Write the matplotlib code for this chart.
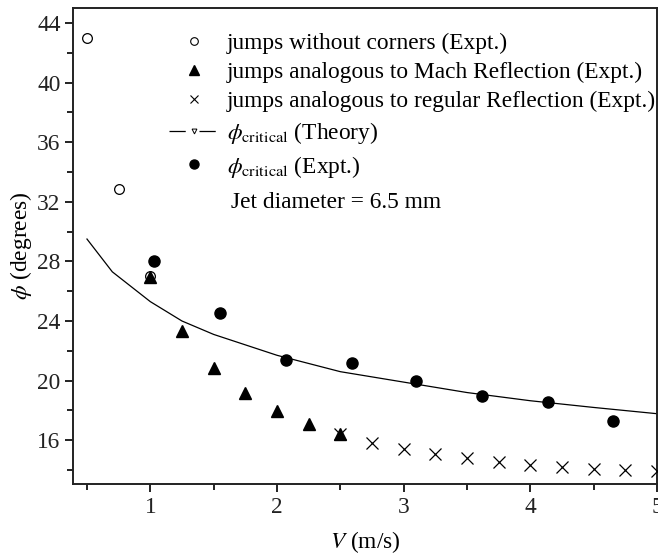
import matplotlib
matplotlib.use('Agg')
import matplotlib.pyplot as plt
from matplotlib.lines import Line2D
from matplotlib.ticker import MultipleLocator

plt.rcParams['font.family'] = ['Liberation Serif', 'DejaVu Serif']
plt.rcParams['mathtext.fontset'] = 'stix'

# jumps without corners (Expt.)
v_nocorner = [0.5, 0.75, 1.0]
phi_nocorner = [43.0, 32.85, 27.0]

# jumps analogous to Mach Reflection (Expt.)
v_mach = [1.0, 1.25, 1.5, 1.75, 2.0, 2.25, 2.5]
phi_mach = [26.95, 23.3, 20.85, 19.15, 17.95, 17.1, 16.4]

# jumps analogous to regular Reflection (Expt.)
v_regular = [2.5, 2.75, 3.0, 3.25, 3.5, 3.75, 4.0, 4.25, 4.5, 4.75, 5.0]
phi_regular = [16.4, 15.8, 15.4, 15.1, 14.8, 14.57, 14.37, 14.2, 14.07, 14.0, 13.95]

# phi critical (Theory)
v_theory = [0.5, 0.7, 1.0, 1.25, 1.5, 2.0, 2.5, 3.0, 3.5, 4.0, 4.5, 5.0]
phi_theory = [29.5, 27.3, 25.3, 24.0, 23.1, 21.7, 20.6, 19.9, 19.2, 18.65, 18.2, 17.78]

# phi critical (Expt.)
v_crit = [1.03, 1.55, 2.07, 2.59, 3.10, 3.62, 4.14, 4.65]
phi_crit = [28.05, 24.55, 21.4, 21.15, 20.0, 19.0, 18.55, 17.27]

fs = 16.8

fig = plt.figure(figsize=(6.58, 5.54), dpi=100)
ax = fig.add_axes([0.111, 0.126, 0.8875, 0.8595])

ax.plot(v_theory, phi_theory, color='black', lw=0.9, zorder=2)
ax.plot(v_nocorner, phi_nocorner, 'o', mfc='white', mec='black', ms=7, mew=0.9, ls='none', zorder=3)
ax.plot(v_mach, phi_mach, '^', color='black', ms=8.5, ls='none', zorder=4)
ax.plot(v_regular, phi_regular, 'x', color='black', ms=8, mew=0.9, ls='none', zorder=4)
ax.plot(v_crit, phi_crit, 'o', color='black', ms=8, ls='none', zorder=4)

ax.set_xlim(0.39, 5.0)
ax.set_ylim(13.05, 45.0)
ax.xaxis.set_major_locator(MultipleLocator(1))
ax.xaxis.set_minor_locator(MultipleLocator(0.5))
ax.yaxis.set_major_locator(MultipleLocator(4))
ax.yaxis.set_minor_locator(MultipleLocator(2))
ax.tick_params(which='major', direction='out', length=6, width=1.4, labelsize=fs, pad=3, colors='#222222')
ax.tick_params(which='minor', direction='out', length=4, width=1.4, colors='#222222')
for s in ax.spines.values():
    s.set_linewidth(1.4)
    s.set_color('#222222')

ax.set_xlabel('$V$ (m/s)', fontsize=fs, labelpad=8)
ax.set_ylabel(r'$\phi$ (degrees)', fontsize=fs, labelpad=2)

handles = [
    Line2D([], [], ls='none', marker='o', mfc='white', mec='black', ms=5.5, mew=0.8),
    Line2D([], [], ls='none', marker='^', color='black', ms=6.5),
    Line2D([], [], ls='none', marker='x', color='black', ms=6, mew=0.8),
    Line2D([], [], color='black', lw=0.9, dashes=(13, 11), marker='v', ms=3.5,
           mfc='white', mec='black', mew=0.7),
    Line2D([], [], ls='none', marker='o', color='black', ms=6.5),
]
labels = [
    'jumps without corners (Expt.)',
    'jumps analogous to Mach Reflection (Expt.)',
    'jumps analogous to regular Reflection (Expt.)',
    r'$\phi_{\mathrm{critical}}$ (Theory)',
    r'$\phi_{\mathrm{critical}}$ (Expt.)',
]
ax.legend(handles, labels, loc='upper left', bbox_to_anchor=(0.164, 0.948),
          frameon=False, fontsize=fs, handlelength=2.2, handletextpad=0.3,
          labelspacing=0.33, borderaxespad=0, borderpad=0)

ax.text(0.27, 0.591, 'Jet diameter = 6.5 mm', transform=ax.transAxes,
        fontsize=fs, va='center', ha='left')

fig.savefig('out.png', dpi=100)
